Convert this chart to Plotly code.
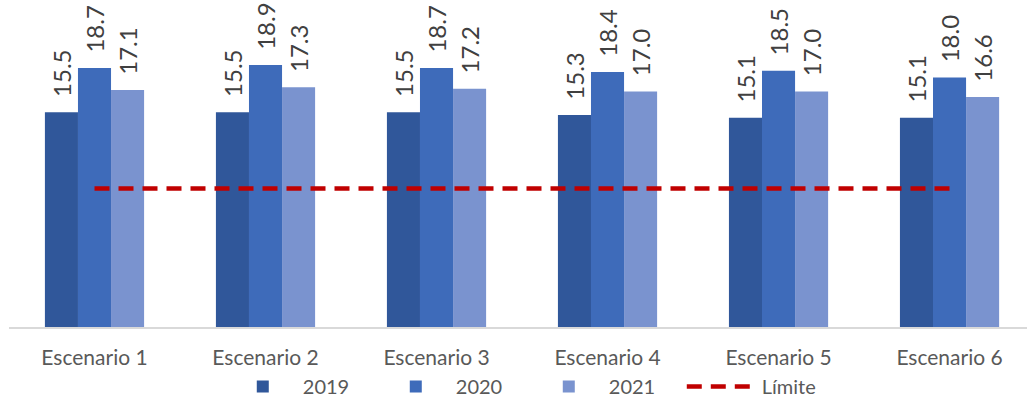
import plotly.graph_objects as go

categories = ["Escenario 1", "Escenario 2", "Escenario 3", "Escenario 4", "Escenario 5", "Escenario 6"]
v2019 = [15.5, 15.5, 15.5, 15.3, 15.1, 15.1]
v2020 = [18.7, 18.9, 18.7, 18.4, 18.5, 18.0]
v2021 = [17.1, 17.3, 17.2, 17.0, 17.0, 16.6]
limite = [10, 10, 10, 10, 10, 10]

colors = {"2019": "#30579A", "2020": "#3E6BBA", "2021": "#7A93CF"}
FONT = "Lato, 'Liberation Sans', Arial, sans-serif"
NB = "\u00a0\u00a0"

fig = go.Figure()
for name, vals in [("2019", v2019), ("2020", v2020), ("2021", v2021)]:
    fig.add_trace(go.Bar(
        x=categories, y=vals, name=name,
        marker=dict(color=colors[name], line=dict(width=0)),
        text=[NB + f"{v:.1f}" for v in vals],
        textposition="outside", textangle=-90, constraintext="none",
        textfont=dict(size=24, color="#404040", family=FONT),
        cliponaxis=False,
    ))

fig.add_trace(go.Scatter(
    x=categories, y=limite, name="Límite", mode="lines",
    line=dict(color="#C00000", width=4.5, dash="15px,9px"),
))

fig.update_layout(
    width=1027, height=397,
    margin=dict(l=9, r=0, t=0, b=70, autoexpand=False),
    paper_bgcolor="white", plot_bgcolor="white",
    barmode="group", bargap=0.42, bargroupgap=0,
    font=dict(family=FONT, size=21, color="#595959"),
    showlegend=True,
    legend=dict(orientation="h", x=0.21, xanchor="left", y=-0.182, yanchor="middle",
                bgcolor="rgba(0,0,0,0)",
                font=dict(size=20, color="#595959", family=FONT),
                itemwidth=70, entrywidth=68, traceorder="normal"),
    xaxis=dict(range=[-0.5, 5.453], showline=True, linecolor="#D9D9D9", linewidth=1.5,
               ticks="", showgrid=False, tickfont=dict(size=21, color="#595959"),
               ticklabelstandoff=11),
    yaxis=dict(range=[0, 23.6], visible=False, showgrid=False, zeroline=False),
)

fig.write_html("out.html")
